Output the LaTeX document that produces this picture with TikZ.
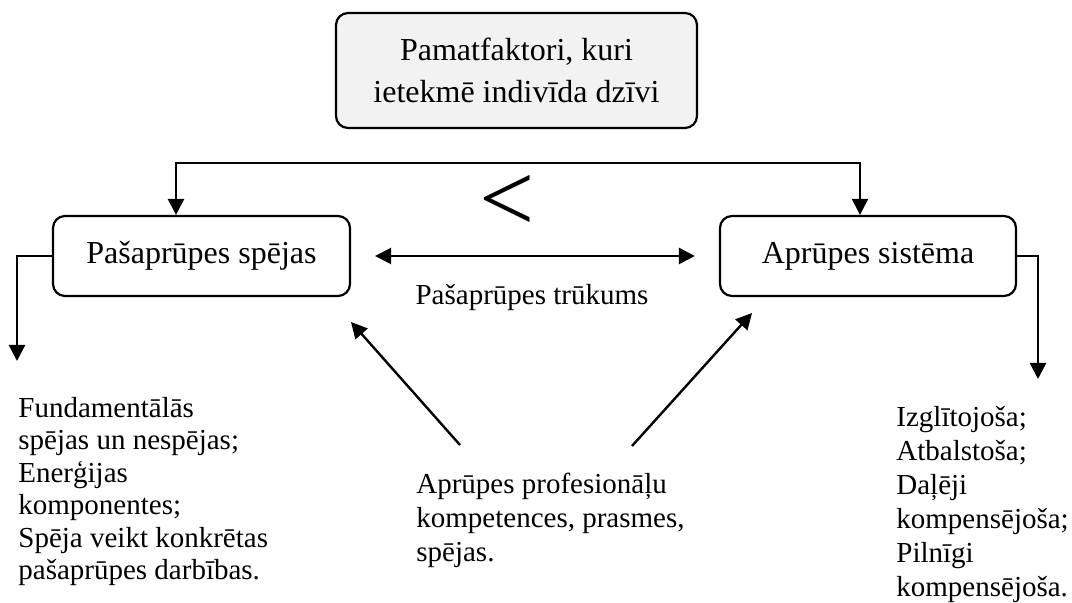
\documentclass[tikz,border=0pt]{standalone}
\usepackage{fontspec}
\setmainfont{Liberation Serif}
\usetikzlibrary{arrows.meta}
\definecolor{boxgray}{HTML}{F2F2F2}

\begin{document}
\begin{tikzpicture}[x=0.5pt,y=-0.5pt,>={Triangle[length=8pt,width=8pt]},
        box/.style={draw, line width=1.1pt, rounded corners=6pt, align=center, font=\fontsize{16}{21}\selectfont},
        txt/.style={align=left, inner sep=0pt, anchor=north west, font=\fontsize{14.5}{17}\selectfont},
        conn/.style={line width=1.2pt}]
        \useasboundingbox (0,0) rectangle (1072,603);

        \coordinate (BusL) at (176, 163);
        \coordinate (BusR) at (860, 163);
        \coordinate (SelfOut) at (17, 361);
        \coordinate (SysOut) at (1038, 379);
        \coordinate (ProfL) at (460, 445);
        \coordinate (ProfR) at (632, 446);
        \coordinate (SelfIn) at (351, 322);
        \coordinate (SysIn) at (752, 313);

        % Boxes
        \node[box, fill=boxgray, minimum width=180.5pt, minimum height=57.5pt] (Factors) at (516.5, 70.5) {Pamatfaktori, kuri\\ietekmē indivīda dzīvi};
        \node[box, minimum width=148.5pt, minimum height=40pt] (Self) at (201.5, 256) {Pašaprūpes spējas};
        \node[box, minimum width=148pt, minimum height=40pt] (System) at (868, 256) {Aprūpes sistēma};

        % Lists
        \node[txt, font=\fontsize{14.5}{16.2}\selectfont] (SelfList) at (18, 397) {Fundamentālās\\spējas un nespējas;\\Enerģijas\\komponentes;\\Spēja veikt konkrētas\\pašaprūpes darbības.};
        \node[txt] (Prof) at (416, 473) {Aprūpes profesionāļu\\kompetences, prasmes,\\spējas.};
        \node[txt] (SysList) at (896, 406) {Izglītojoša;\\Atbalstoša;\\Daļēji\\kompensējoša;\\Pilnīgi\\kompensējoša.};

        % Labels
        \node[anchor=base, inner sep=0pt, font=\fontsize{14.5}{17}\selectfont] (Gap) at (532, 305) {Pašaprūpes trūkums};
        \node[inner sep=0pt, font=\fontsize{49}{50}\selectfont] (Less) at (507, 203) {<};

        % Connectors
        \draw[conn, <->] (BusL |- Self.north) -- (BusL) -- (BusR) -- (BusR |- System.north);
        \draw[conn, <->, shorten <=12pt, shorten >=12pt] (Self) -- (System);
        \draw[conn, ->] (Self.west) -| (SelfOut);
        \draw[conn, ->] (System.east) -| (SysOut);
        \draw[conn, ->] (ProfL) -- (SelfIn);
        \draw[conn, ->] (ProfR) -- (SysIn);
\end{tikzpicture}
\end{document}
